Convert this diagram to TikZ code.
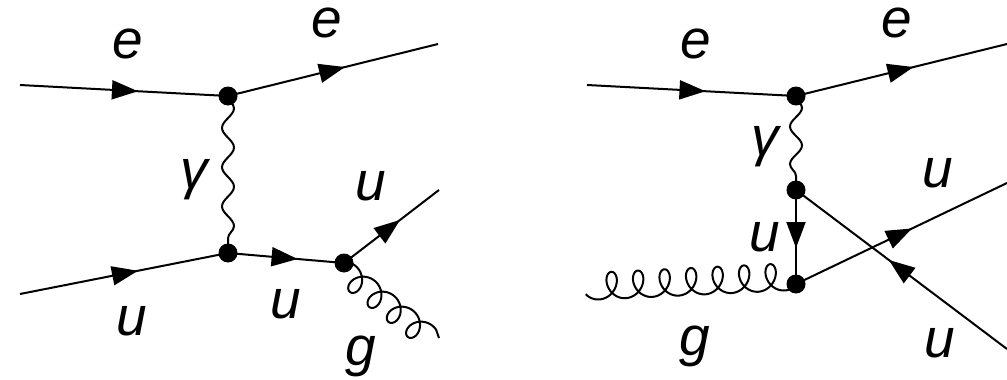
\documentclass[tikz,border=0pt]{standalone}
\usepackage{fontspec}
\setmainfont{Liberation Sans}
\usetikzlibrary{arrows.meta, decorations.markings, decorations.pathmorphing}

\begin{document}
\begin{tikzpicture}[
    x=1pt, y=-1pt,
    line width=2pt,
    font=\fontsize{55}{60}\selectfont\itshape,
    vtx/.style={circle, fill=black, inner sep=0pt, minimum size=19pt},
    lbl/.style={anchor=base, inner sep=0pt},
    fermion/.style={
      postaction={decorate},
      decoration={markings, mark=at position #1 with {\arrow{Triangle[length=26pt,width=19pt]}}}
    },
    photon/.style={decorate, decoration={snake, amplitude=6pt, segment length=#1, pre length=0pt, post length=0pt}},
    gluon/.style={line join=round, samples=400, variable=\t}
  ]
  \useasboundingbox (0,0) rectangle (1007,380);
  % Left diagram
  \node[vtx] (ltop) at (228,96) {};
  \node[vtx] (lbot) at (228,253) {};
  \node[vtx] (lrad) at (344,263) {};
  \coordinate (lein) at (20,85);
  \coordinate (leout) at (438,44);
  \coordinate (luin) at (20,294);
  \coordinate (luout) at (439,190);
  \coordinate (lgout) at (439,338);
  \draw[fermion=0.567] (lein) -- (ltop.center);
  \draw[fermion=0.557] (ltop.center) -- (leout);
  \draw[fermion=0.567] (luin) -- (lbot.center);
  \draw[fermion=0.6] (lbot.center) -- (lrad.center);
  \draw[fermion=0.59] (lrad.center) -- (luout);
  \draw[photon=39.25pt] (ltop.center) -- (lbot.center);
  \draw[gluon] (lrad.center) -- plot[domain=-60:1462]
    ({347.67+0.05361*\t+8.7*sin(\t)+7.3*cos(\t)},{275+0.04167*\t+6.7*sin(\t)-9.5*cos(\t)}) -- (lgout);
  \node[lbl] (le1) at (128,58) {e};
  \node[lbl] (le2) at (327,37) {e};
  \node[lbl] (lph) at (194,188) {γ};
  \node[lbl] (lu1) at (371,200) {u};
  \node[lbl] (lu2) at (132,335) {u};
  \node[lbl] (lu3) at (286,318) {u};
  \node[lbl] (lg) at (361,365) {g};
  % Right diagram
  \node[vtx] (rtop) at (796,96) {};
  \node[vtx] (rmid) at (796,190) {};
  \node[vtx] (rbot) at (796,284) {};
  \coordinate (rein) at (587,85);
  \coordinate (reout) at (1007,44);
  \coordinate (ruout) at (1007,183);
  \coordinate (ruin) at (1007,349);
  \coordinate (rgin) at (587,294);
  \draw[fermion=0.567] (rein) -- (rtop.center);
  \draw[fermion=0.557] (rtop.center) -- (reout);
  \draw[fermion=0.617] (rmid.center) -- (rbot.center);
  \draw[fermion=0.55] (rbot.center) -- (ruout);
  \draw[fermion=0.56] (ruin) -- (rmid.center);
  \draw[photon=37.6pt] (rtop.center) -- (rmid.center);
  \draw[gluon] (rgin) -- plot[domain=-50:2570]
    ({598.4+0.07361*\t+11*sin(\t)},{286-0.003571*\t+13.5*cos(\t)}) -- (rbot.center);
  \node[lbl] (re1) at (696,58) {e};
  \node[lbl] (re2) at (897,37) {e};
  \node[lbl] (rph) at (765,155) {γ};
  \node[lbl] (ru1) at (765,251) {u};
  \node[lbl] (ru2) at (938,187) {u};
  \node[lbl] (ru3) at (940,357) {u};
  \node[lbl] (rg) at (695,355) {g};
\end{tikzpicture}
\end{document}
